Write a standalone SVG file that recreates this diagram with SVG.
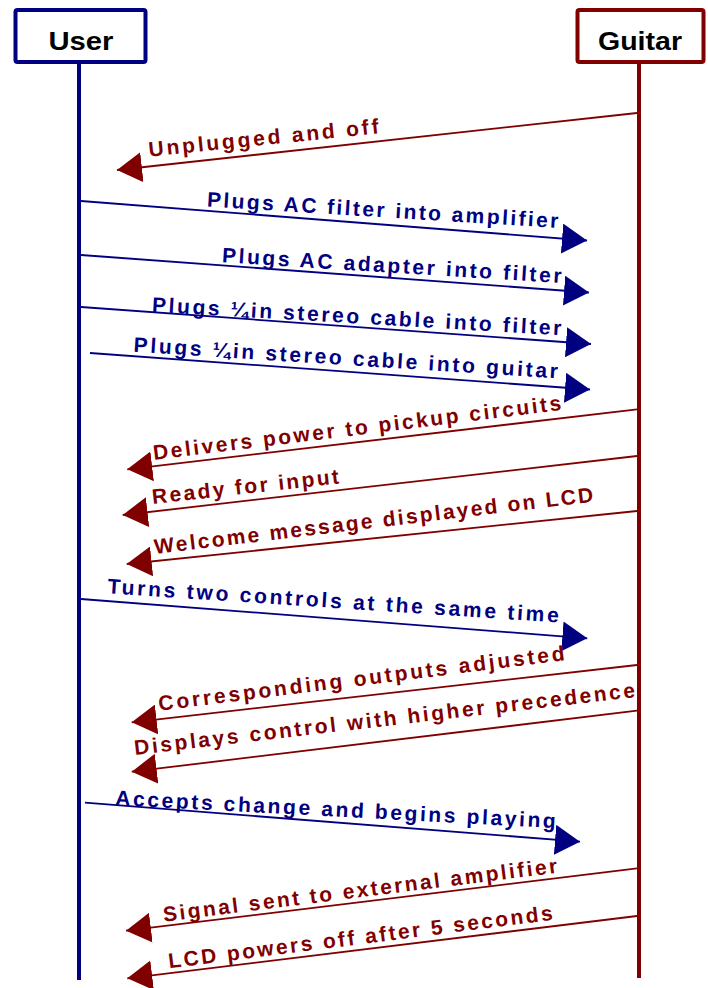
<svg xmlns="http://www.w3.org/2000/svg" width="708" height="988" viewBox="0 0 708 988">
<style>
.bg{fill:#ffffff}
.box{fill:#ffffff;stroke-width:4}
.u{stroke:#000080}
.g{stroke:#800000}
.life{stroke-width:4;fill:none}
.name{font-family:"Liberation Sans",Arial,sans-serif;font-weight:bold;font-size:26px;text-anchor:middle;fill:#000000}
.m{stroke-width:1.8;fill:none}
.mu{stroke:#000080;marker-end:url(#arrU)}
.mg{stroke:#800000;marker-end:url(#arrG)}
.t{font-family:"Liberation Sans",Arial,sans-serif;font-weight:bold;font-size:21px}
.tu{fill:#000080}
.tg{fill:#800000}
</style>
<defs>
<marker id="arrU" markerUnits="userSpaceOnUse" viewBox="0 0 25 30" markerWidth="25" markerHeight="30" refX="25" refY="15" orient="auto">
<path d="M0,0 L25,15 L0,30 z" fill="#000080"/>
</marker>
<marker id="arrG" markerUnits="userSpaceOnUse" viewBox="0 0 25 30" markerWidth="25" markerHeight="30" refX="25" refY="15" orient="auto">
<path d="M0,0 L25,15 L0,30 z" fill="#800000"/>
</marker>
</defs>
<rect class="bg" x="0" y="0" width="708" height="988"/>

<g id="user">
<line class="life u" x1="79" y1="62" x2="79" y2="980"/>
<rect class="box u" x="15.5" y="10" width="130" height="52" rx="2"/>
<text class="name" x="81" y="50" textLength="65" lengthAdjust="spacingAndGlyphs">User</text>
</g>
<g id="guitar">
<line class="life g" x1="639" y1="62" x2="639" y2="978"/>
<rect class="box g" x="577.5" y="10" width="126" height="52" rx="2"/>
<text class="name" x="640" y="50" textLength="84" lengthAdjust="spacingAndGlyphs">Guitar</text>
</g>

<g id="connectors">
<g id="m1"><line class="m mg" x1="637" y1="113" x2="117" y2="170"/>
<text class="t tg" x="149.3" y="156.7" transform="rotate(-5.8 149.3 156.7)" textLength="231" lengthAdjust="spacing">Unplugged and off</text></g>

<g id="m2"><line class="m mu" x1="81" y1="201" x2="587" y2="240.5"/>
<text class="t tu" x="206.7" y="206.5" transform="rotate(3.5 206.7 206.5)" textLength="352" lengthAdjust="spacing">Plugs AC filter into amplifier</text></g>

<g id="m3"><line class="m mu" x1="81" y1="255" x2="589" y2="292.5"/>
<text class="t tu" x="221.7" y="262.3" transform="rotate(3.5 221.7 262.3)" textLength="340" lengthAdjust="spacing">Plugs AC adapter into filter</text></g>

<g id="m4"><line class="m mu" x1="81" y1="307" x2="591" y2="344"/>
<text class="t tu" x="151.7" y="311.7" transform="rotate(3.3 151.7 311.7)" textLength="410" lengthAdjust="spacing">Plugs ¼in stereo cable into filter</text></g>

<g id="m5"><line class="m mu" x1="90" y1="353" x2="590" y2="389.5"/>
<text class="t tu" x="133.3" y="351.7" transform="rotate(3.6 133.3 351.7)" textLength="425" lengthAdjust="spacing">Plugs ¼in stereo cable into guitar</text></g>

<g id="m6"><line class="m mg" x1="637" y1="409.3" x2="127.3" y2="469.3"/>
<text class="t tg" x="154" y="460" transform="rotate(-7 154 460)" textLength="411" lengthAdjust="spacing">Delivers power to pickup circuits</text></g>

<g id="m7"><line class="m mg" x1="637" y1="456" x2="122.7" y2="515"/>
<text class="t tg" x="152.7" y="504" transform="rotate(-6.3 152.7 504)" textLength="188" lengthAdjust="spacing">Ready for input</text></g>

<g id="m8"><line class="m mg" x1="637" y1="511" x2="126.7" y2="564"/>
<text class="t tg" x="155" y="554" transform="rotate(-6.8 155 554)" textLength="442" lengthAdjust="spacing">Welcome message displayed on LCD</text></g>

<g id="m9"><line class="m mu" x1="81" y1="599" x2="587.3" y2="638.3"/>
<text class="t tu" x="107.3" y="593.3" transform="rotate(3.7 107.3 593.3)" textLength="452" lengthAdjust="spacing">Turns two controls at the same time</text></g>

<g id="m10"><line class="m mg" x1="637" y1="665" x2="131.7" y2="722.3"/>
<text class="t tg" x="159.3" y="710.7" transform="rotate(-7.1 159.3 710.7)" textLength="409" lengthAdjust="spacing">Corresponding outputs adjusted</text></g>

<g id="m11"><line class="m mg" x1="637" y1="710.7" x2="131.7" y2="771.7"/>
<text class="t tg" x="135" y="755" transform="rotate(-6.6 135 755)" textLength="504" lengthAdjust="spacing">Displays control with higher precedence</text></g>

<g id="m12"><line class="m mu" x1="85" y1="802.7" x2="580" y2="841.7"/>
<text class="t tu" x="115" y="805" transform="rotate(3 115 805)" textLength="441" lengthAdjust="spacing">Accepts change and begins playing</text></g>

<g id="m13"><line class="m mg" x1="637" y1="868.3" x2="126" y2="930.7"/>
<text class="t tg" x="164" y="921.7" transform="rotate(-7.1 164 921.7)" textLength="397" lengthAdjust="spacing">Signal sent to external amplifier</text></g>

<g id="m14"><line class="m mg" x1="637" y1="916" x2="127.3" y2="978.3"/>
<text class="t tg" x="169.3" y="968.3" transform="rotate(-7.2 169.3 968.3)" textLength="387" lengthAdjust="spacing">LCD powers off after 5 seconds</text></g>
</g>
</svg>
